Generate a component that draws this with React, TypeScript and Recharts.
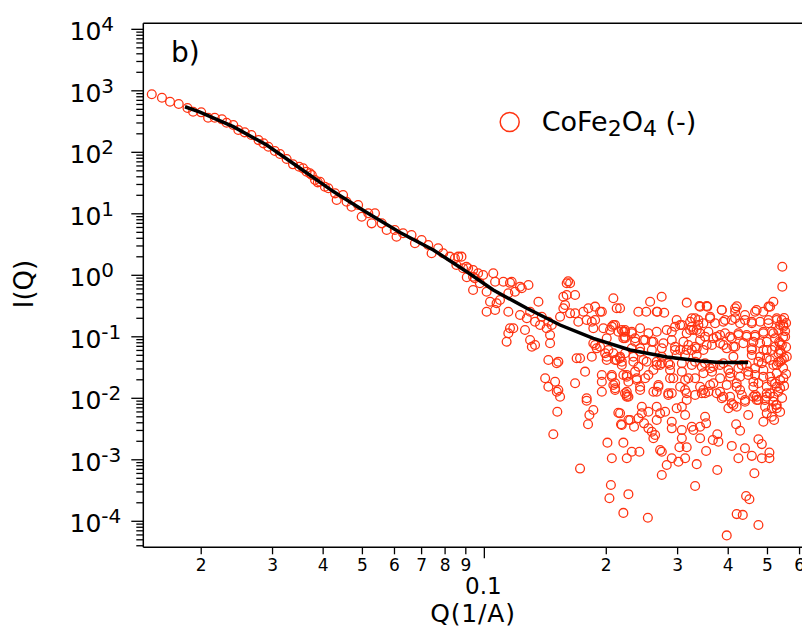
import { ScatterChart, Scatter, XAxis, YAxis, ReferenceLine } from "recharts"

const RED = "#ff3311"
const FONT = "DejaVu Sans, Verdana, sans-serif"

// [Q (1/A), I(Q)]
const lowQPoints: [number, number][] = [
  [0.0151, 878], [0.016, 772], [0.01675, 664], [0.0176, 611], [0.0185, 525], [0.0191, 457],
  [0.02, 447], [0.0208, 365], [0.0216, 365], [0.0225, 344], [0.0231, 303], [0.024, 278],
  [0.0247, 231], [0.0256, 211], [0.0266, 191], [0.0277, 158], [0.0285, 140], [0.0293, 123],
  [0.0304, 105], [0.0313, 93.7], [0.0325, 77.8], [0.0337, 63.8], [0.0349, 58.3], [0.0357, 54.9],
  [0.0364, 48.3], [0.0371, 45.5], [0.0375, 42.7], [0.0382, 35.4], [0.0388, 32.5], [0.0393, 33.2],
  [0.0404, 27.6], [0.0412, 26.0], [0.0428, 21.5], [0.0432, 16.8], [0.0448, 20.2], [0.0457, 15.7],
  [0.047, 13.0], [0.0488, 13.9], [0.0498, 8.97], [0.0517, 10.2], [0.0527, 7.0], [0.0537, 10.2],
  [0.0558, 7.0], [0.0574, 5.45], [0.0601, 5.45], [0.0607, 4.24], [0.063, 4.82], [0.0661, 4.52],
  [0.0674, 3.32], [0.07, 3.75], [0.0727, 3.11], [0.0741, 2.28], [0.0769, 2.75], [0.0791, 2.28],
  [0.0822, 2.01], [0.0846, 1.89], [0.0853, 1.47], [0.0862, 2.01], [0.0878, 2.01], [0.0886, 1.3],
  [0.0903, 1.38], [0.0905, 0.93], [0.0912, 1.3], [0.0938, 1.22], [0.0938, 0.948], [0.0947, 0.894],
  [0.0965, 1.08], [0.0975, 0.742], [0.0993, 1.01],
]

const midQPoints: [number, number][] = [
  [0.0938, 0.577], [0.1052, 1.08], [0.1063, 0.787], [0.1114, 0.787], [0.1168, 0.787], [0.1013, 0.541],
  [0.1033, 0.372], [0.1072, 0.351], [0.1013, 0.256], [0.1063, 0.273], [0.1093, 0.397], [0.1146, 0.51],
  [0.119, 0.541], [0.1237, 0.615], [0.1285, 0.696], [0.1146, 0.256], [0.1225, 0.226], [0.1273, 0.2],
  [0.1297, 0.256], [0.136, 0.372], [0.1334, 0.176], [0.1373, 0.1555], [0.1425, 0.1375], [0.1157, 0.1375],
  [0.1179, 0.1375], [0.1146, 0.114], [0.1135, 0.0832], [0.126, 0.129], [0.1297, 0.0887], [0.131, 0.069],
  [0.1334, 0.0736], [0.1453, 0.107], [0.1453, 0.0785], [0.1386, 0.212], [0.1439, 0.176], [0.1467, 0.1555],
  [0.1538, 0.212], [0.1567, 0.291], [0.1597, 0.742], [0.1628, 0.742], [0.161, 0.8], [0.1567, 0.448],
  [0.1597, 0.478], [0.1675, 0.478], [0.1582, 0.329], [0.1628, 0.241], [0.1675, 0.241], [0.1706, 0.176],
  [0.1756, 0.256], [0.1806, 0.291], [0.1877, 0.309], [0.195, 0.256], [0.1789, 0.1875], [0.1877, 0.1875],
  [0.1858, 0.1375], [0.1967, 0.1375], [0.2064, 0.146], [0.2103, 0.1555], [0.2082, 0.423], [0.2122, 0.291],
  [0.2225, 0.121], [0.2204, 0.0946], [0.2005, 0.0946], [0.1931, 0.069], [0.1877, 0.0736], [0.2024, 0.061],
  [0.2082, 0.054], [0.1842, 0.0475], [0.1723, 0.0448], [0.169, 0.0448], [0.1773, 0.0271], [0.2005, 0.0475],
  [0.2122, 0.042], [0.2163, 0.0448], [0.2184, 0.0348], [0.1439, 0.042], [0.1523, 0.0394], [0.1509, 0.0371],
  [0.1413, 0.0212], [0.1439, 0.0154], [0.1495, 0.0186], [0.1523, 0.01365], [0.1538, 0.0106], [0.1675, 0.0176],
  [0.1789, 0.01], [0.195, 0.0239], [0.195, 0.0186], [0.2064, 0.0239], [0.2082, 0.01646], [0.2103, 0.0146],
  [0.195, 0.0128], [0.2204, 0.0239], [0.2225, 0.0121], [0.151, 0.0128], [0.1514, 0.00605], [0.148, 0.0026],
  [0.1789, 0.00914], [0.1858, 0.00645], [0.1817, 0.00535], [0.1803, 0.00378], [0.2103, 0.01365], [0.2142, 0.00583],
  [0.2175, 0.00378], [0.2247, 0.0113], [0.2268, 0.00444], [0.2013, 0.0019], [0.2204, 0.0019], [0.2064, 0.00106],
  [0.2247, 0.00106], [0.1723, 0.00072], [0.2053, 0.000389], [0.2036, 0.000237], [0.2204, 0.000137], [0.2268, 0.000276],
  [0.1157, 0.755], [0.1225, 0.653],
]

const highQPoints: [number, number][] = [
  [0.544, 1.38], [0.544, 0.653], [0.517, 0.372], [0.503, 0.309], [0.4885, 0.256], [0.47, 0.273],
  [0.274, 0.448], [0.2566, 0.372], [0.316, 0.359], [0.3409, 0.309], [0.355, 0.309], [0.3856, 0.273],
  [0.42, 0.313], [0.24, 0.256], [0.251, 0.256], [0.2674, 0.256], [0.278, 0.246], [0.416, 0.256],
  [0.44, 0.226], [0.2163, 0.291],
  [0.2225, 0.129], [0.2312, 0.114], [0.2424, 0.1375], [0.2541, 0.114], [0.2664, 0.121], [0.282, 0.129],
  [0.2957, 0.146], [0.3073, 0.1555], [0.3252, 0.2], [0.3376, 0.1875], [0.3608, 0.2], [0.3929, 0.1875],
  [0.416, 0.2], [0.44, 0.1875], [0.4574, 0.1658], [0.4795, 0.176], [0.5026, 0.1875], [0.527, 0.2],
  [0.5424, 0.1875], [0.5473, 0.146], [0.532, 0.129], [0.5124, 0.121], [0.4885, 0.114], [0.466, 0.107],
  [0.4443, 0.1004], [0.4238, 0.107], [0.4043, 0.1004], [0.3819, 0.107], [0.3676, 0.0946], [0.3507, 0.1004],
  [0.3344, 0.129], [0.3252, 0.146], [0.3159, 0.114], [0.3409, 0.0887], [0.3101, 0.0832], [0.2902, 0.0887],
  [0.2767, 0.0785], [0.2614, 0.0832], [0.247, 0.0887], [0.2356, 0.0832], [0.2225, 0.0946], [0.2184, 0.129],
  [0.3539, 0.0736], [0.389, 0.0736], [0.4119, 0.069], [0.4359, 0.0785], [0.4615, 0.0832], [0.4979, 0.0832],
  [0.5221, 0.0946], [0.5372, 0.0785], [0.3344, 0.065], [0.3159, 0.061], [0.2957, 0.061], [0.2742, 0.065],
  [0.2591, 0.061], [0.2424, 0.0572], [0.2312, 0.065],
  [0.2225, 0.054], [0.2333, 0.0394], [0.2401, 0.0326], [0.2516, 0.0394], [0.2664, 0.0348], [0.2742, 0.0371],
  [0.2874, 0.0348], [0.3073, 0.0371], [0.3252, 0.0348], [0.3442, 0.0326], [0.3608, 0.0308], [0.3819, 0.0348],
  [0.4004, 0.0289], [0.4238, 0.0308], [0.4443, 0.0348], [0.466, 0.0308], [0.4842, 0.0371], [0.5075, 0.042],
  [0.527, 0.0348], [0.5424, 0.042], [0.5372, 0.061], [0.5124, 0.061], [0.4885, 0.061], [0.4795, 0.0475],
  [0.4574, 0.061],
  [0.2247, 0.0239], [0.2378, 0.0212], [0.2541, 0.0239], [0.2424, 0.0154], [0.2268, 0.0186], [0.2614, 0.0128],
  [0.269, 0.0154], [0.2874, 0.0212], [0.2846, 0.0113], [0.3131, 0.01985], [0.3159, 0.0121], [0.3314, 0.0113],
  [0.3473, 0.01365], [0.3676, 0.0176], [0.3819, 0.0212], [0.4043, 0.0224], [0.4197, 0.0176], [0.4279, 0.01365],
  [0.4482, 0.0239], [0.4615, 0.0186], [0.4885, 0.0224], [0.5124, 0.0186], [0.527, 0.0154], [0.4979, 0.0121],
  [0.4704, 0.0106], [0.4043, 0.0106], [0.3746, 0.0121],
  [0.2247, 0.0106], [0.2424, 0.01365], [0.2664, 0.0128], [0.2902, 0.0121], [0.3442, 0.0121], [0.3573, 0.0128],
  [0.3819, 0.0128], [0.3856, 0.01], [0.4321, 0.0113], [0.44, 0.00938], [0.4615, 0.0106], [0.4704, 0.00938],
  [0.4979, 0.0106], [0.5171, 0.0088],
  [0.2163, 0.0057], [0.2184, 0.00368], [0.229, 0.00444], [0.2342, 0.00345], [0.2401, 0.00473], [0.2448, 0.0057],
  [0.2448, 0.0073], [0.2541, 0.00605], [0.2479, 0.00392], [0.2541, 0.00325], [0.2591, 0.00286], [0.2614, 0.00224],
  [0.264, 0.00253], [0.2664, 0.00444], [0.2664, 0.0073], [0.2716, 0.0057], [0.2794, 0.00605], [0.2984, 0.00688],
  [0.3073, 0.0073], [0.3131, 0.00535], [0.3159, 0.00938], [0.2902, 0.00416], [0.2902, 0.00325], [0.3073, 0.00305],
  [0.3073, 0.00224], [0.3252, 0.00345], [0.3282, 0.00305], [0.3409, 0.00345], [0.3507, 0.00502], [0.3528, 0.00392],
  [0.3409, 0.00224], [0.3664, 0.0021], [0.3782, 0.00197], [0.3759, 0.0026], [0.4004, 0.00688], [0.4119, 0.00778],
  [0.4197, 0.0073], [0.44, 0.0088], [0.4482, 0.00535], [0.4184, 0.00378], [0.4279, 0.00297], [0.4082, 0.00168],
  [0.44, 0.00154], [0.4238, 0.00106], [0.4574, 0.00116], [0.4749, 0.00216], [0.4842, 0.0018], [0.4842, 0.00106],
  [0.5055, 0.00131], [0.5055, 0.00106], [0.5124, 0.00502], [0.4885, 0.00416], [0.4979, 0.0057], [0.5124, 0.00688],
  [0.527, 0.00688], [0.4933, 0.0073], [0.4749, 0.00938],
  [0.2312, 0.00135], [0.2414, 0.00135], [0.2716, 0.00144], [0.2742, 0.00135], [0.2902, 0.00106], [0.3014, 0.00093],
  [0.3131, 0.00106], [0.3031, 0.0016], [0.3159, 0.0016], [0.3528, 0.00139], [0.3344, 0.00085], [0.282, 0.000823],
  [0.2742, 0.000566], [0.3759, 0.000683], [0.3314, 0.000375], [0.4641, 0.000603], [0.2533, 0.000114], [0.4428, 0.000258],
  [0.4512, 0.000228], [0.4197, 0.000131], [0.4345, 0.000127], [0.4749, 8.7e-5], [0.3966, 5.9e-5],
  [0.5495, 0.202], [0.5558, 0.168], [0.5372, 0.1555], [0.5527, 0.124], [0.5464, 0.0993], [0.5342, 0.0823],
  [0.5558, 0.0683], [0.5402, 0.0545], [0.5495, 0.0452], [0.5311, 0.039], [0.5464, 0.0312], [0.5558, 0.0248],
  [0.5372, 0.01985], [0.5495, 0.0159], [0.5311, 0.0127], [0.5433, 0.0101], [0.5251, 0.00778], [0.5372, 0.006],
  [0.5192, 0.00444],
]

// the crowded band at high Q, read from close-ups
const denseBandPoints: [number, number][] = [
  [0.3396, 0.317], [0.3539, 0.317], [0.3856, 0.273], [0.416, 0.291], [0.466, 0.256], [0.5075, 0.309],
  [0.3314, 0.2], [0.3473, 0.1658], [0.3608, 0.212], [0.3712, 0.1658], [0.389, 0.176], [0.4082, 0.1875],
  [0.4279, 0.1658], [0.4574, 0.176], [0.5026, 0.1658], [0.527, 0.1875], [0.5473, 0.1555],
  [0.3282, 0.129], [0.3409, 0.114], [0.3573, 0.121], [0.3746, 0.1004], [0.3929, 0.114], [0.4082, 0.0946],
  [0.4238, 0.114], [0.4443, 0.107], [0.466, 0.1004], [0.4885, 0.121], [0.5171, 0.114], [0.5527, 0.1004],
  [0.3314, 0.069], [0.3473, 0.061], [0.3647, 0.0736], [0.3819, 0.0785], [0.3966, 0.065], [0.416, 0.069],
  [0.4574, 0.065], [0.4795, 0.0785], [0.4979, 0.061], [0.5221, 0.069], [0.5424, 0.0736], [0.532, 0.054],
  [0.3344, 0.0506], [0.3507, 0.0371], [0.3676, 0.0326], [0.389, 0.0371], [0.4119, 0.0475], [0.4321, 0.0348],
  [0.4574, 0.0506], [0.4749, 0.0394], [0.4979, 0.0448], [0.5171, 0.0348], [0.5372, 0.0394], [0.558, 0.0475],
  [0.3314, 0.0212], [0.3473, 0.0255], [0.3647, 0.0271], [0.4043, 0.0255], [0.4279, 0.0224], [0.4482, 0.0271],
  [0.466, 0.0239], [0.4885, 0.0289], [0.5075, 0.0224], [0.527, 0.0255], [0.5473, 0.0212],
  [0.3409, 0.0154], [0.3608, 0.01646], [0.3966, 0.01646], [0.4197, 0.0154], [0.4615, 0.0154], [0.4749, 0.0176],
  [0.4979, 0.0154], [0.5221, 0.0176], [0.5372, 0.0146],
  [0.3507, 0.0121], [0.389, 0.0106], [0.4082, 0.0083], [0.466, 0.0113], [0.4933, 0.00938], [0.5171, 0.0106],
  [0.527, 0.00778], [0.5075, 0.0121],
  [0.1931, 0.256], [0.2664, 0.256], [0.1842, 0.176], [0.2082, 0.1555], [0.2044, 0.129], [0.2142, 0.121],
  [0.2204, 0.121], [0.2312, 0.121], [0.2225, 0.1004], [0.2356, 0.0946], [0.2494, 0.0887], [0.2591, 0.0832],
  [0.2902, 0.121], [0.2984, 0.1875], [0.3043, 0.1555], [0.3221, 0.176], [0.3221, 0.129], [0.3376, 0.1555],
  [0.1858, 0.0785], [0.1894, 0.065], [0.1987, 0.054], [0.2005, 0.042], [0.2103, 0.042], [0.2163, 0.0475],
  [0.2184, 0.0394], [0.2333, 0.0475], [0.2424, 0.065], [0.247, 0.042], [0.2664, 0.0394], [0.2742, 0.0475],
  [0.2846, 0.0371], [0.2957, 0.069], [0.3043, 0.061], [0.319, 0.0736], [0.2984, 0.0506], [0.3131, 0.0506],
  [0.3252, 0.061], [0.3314, 0.0394],
  [0.2064, 0.0224], [0.2103, 0.0176], [0.2247, 0.0224], [0.2356, 0.0271], [0.2378, 0.01985], [0.2494, 0.0212],
  [0.2614, 0.0289], [0.2716, 0.0348], [0.269, 0.01646], [0.2874, 0.0289], [0.2928, 0.0212], [0.3073, 0.0271],
  [0.319, 0.0212], [0.3043, 0.0154], [0.2846, 0.0121], [0.3131, 0.01365], [0.2247, 0.0128], [0.2268, 0.0106],
]

// model fit
const fitCurve: [number, number][] = [
  [0.01824, 551], [0.01986, 452], [0.024, 261], [0.02902, 131.5], [0.03508, 55.0], [0.0424, 23.0],
  [0.05124, 10.5], [0.06193, 4.97], [0.07484, 2.58], [0.09048, 1.144], [0.1052, 0.577], [0.1273, 0.2905],
  [0.1538, 0.1555], [0.1858, 0.0945], [0.229, 0.061], [0.2825, 0.0469], [0.341, 0.0404], [0.3819, 0.0382],
  [0.4477, 0.0382],
]

const xDomain: [number, number] = [0.01439, 0.644]
const yDomain: [number, number] = [3.776e-5, 12530]
const xTicks = [0.02, 0.03, 0.04, 0.05, 0.06, 0.07, 0.08, 0.09, 0.1, 0.2, 0.3, 0.4, 0.5, 0.6]
const yDecades = [-5, -4, -3, -2, -1, 0, 1, 2, 3, 4]
const yMinorSteps = [1, 2, 3, 4, 5, 6, 7, 8, 9]

const yTicks: number[] = []
yDecades.forEach((d) =>
  yMinorSteps.forEach((m) => {
    const v = Number((m * Math.pow(10, d)).toPrecision(6))
    if (v >= yDomain[0] && v <= yDomain[1]) yTicks.push(v)
  })
)

const toRows = (pts: [number, number][]) => pts.map(([q, i]) => ({ q, i }))
const scatterData = toRows([...lowQPoints, ...midQPoints, ...highQPoints, ...denseBandPoints])
const fitData = toRows(fitCurve)

const isDecade = (v: number) => {
  const lg = Math.log10(v)
  return Math.abs(lg - Math.round(lg)) < 1e-6
}

function XTick({ x, y, payload }: any) {
  const v = payload.value
  const major = isDecade(v)
  const digit = Math.round(v / Math.pow(10, Math.floor(Math.log10(v) + 1e-9)))
  return (
    <g>
      <line x1={x} x2={x} y1={y} y2={y + (major ? 11 : 7)} stroke="#000" strokeWidth={1.3} />
      {major ? (
        <text x={x - 1} y={y + 47} textAnchor="middle" fontSize={23} fontFamily={FONT} fill="#000">
          {String(v)}
        </text>
      ) : (
        <text x={x} y={y + 23.4} textAnchor="middle" fontSize={17} fontFamily={FONT} fill="#000">
          {digit}
        </text>
      )}
    </g>
  )
}

function YTick({ x, y, payload }: any) {
  const v = payload.value
  const major = isDecade(v)
  const exp = Math.round(Math.log10(v))
  return (
    <g>
      <line x1={x} x2={x - (major ? 12 : 7)} y1={y} y2={y} stroke="#000" strokeWidth={1.3} />
      {major && (
        <g fontFamily={FONT} fill="#000">
          <text x={x - 42} y={y + 11} textAnchor="end" fontSize={25}>10</text>
          <text x={x - 42} y={y + 2} textAnchor="start" fontSize={20}>{exp < 0 ? `-${-exp}` : exp}</text>
        </g>
      )}
    </g>
  )
}

const Ring = (props: any) => (
  <circle cx={props.cx} cy={props.cy} r={4.4} fill="none" stroke={RED} strokeWidth={1.3} />
)

export default function App() {
  return (
    <div style={{ width: 802, height: 628, overflow: "hidden", position: "relative", background: "#fff" }}>
      <style>{"body{margin:0}"}</style>
      <ScatterChart width={820} height={628} margin={{ top: 23.3, right: 8, bottom: 30.7, left: 43.3 }}>
        <XAxis
          type="number"
          dataKey="q"
          scale="log"
          domain={xDomain}
          allowDataOverflow
          ticks={xTicks}
          interval={0}
          tick={<XTick />}
          tickLine={false}
          tickSize={0}
          tickMargin={0}
          height={50}
          axisLine={{ stroke: "#000", strokeWidth: 1.5 }}
        />
        <YAxis
          type="number"
          dataKey="i"
          scale="log"
          domain={yDomain}
          allowDataOverflow
          ticks={yTicks}
          interval={0}
          tick={<YTick />}
          tickLine={false}
          tickSize={0}
          tickMargin={0}
          width={100}
          axisLine={{ stroke: "#000", strokeWidth: 1.5 }}
        />
        <ReferenceLine y={yDomain[1]} stroke="#000" strokeWidth={1.5} ifOverflow="visible" />
        <Scatter data={scatterData} shape={<Ring />} isAnimationActive={false} />
        <Scatter
          data={fitData}
          line={{ stroke: "#000", strokeWidth: 3.5 }}
          shape={() => <g />}
          isAnimationActive={false}
        />
      </ScatterChart>
      <svg
        width={802}
        height={628}
        style={{ position: "absolute", left: 0, top: 0, pointerEvents: "none" }}
        fontFamily={FONT}
        fill="#000"
      >
        <text x={171} y={62} fontSize={28}>b)</text>
        <circle cx={509.7} cy={122} r={9.5} fill="none" stroke={RED} strokeWidth={1.5} />
        <text x={541.7} y={130.7} fontSize={27} style={{ whiteSpace: "pre" }}>
          CoFe
          <tspan fontSize={22} dy={5}>2</tspan>
          <tspan dy={-5}>O</tspan>
          <tspan fontSize={22} dy={5}>4</tspan>
          <tspan dy={-5}>{" (-)"}</tspan>
        </text>
        <text x={33} y={284} fontSize={26} textAnchor="middle" transform="rotate(-90 33 284)">I(Q)</text>
        <text x={473} y={622} fontSize={25} textAnchor="middle" letterSpacing={0.8}>Q(1/A)</text>
      </svg>
    </div>
  )
}
